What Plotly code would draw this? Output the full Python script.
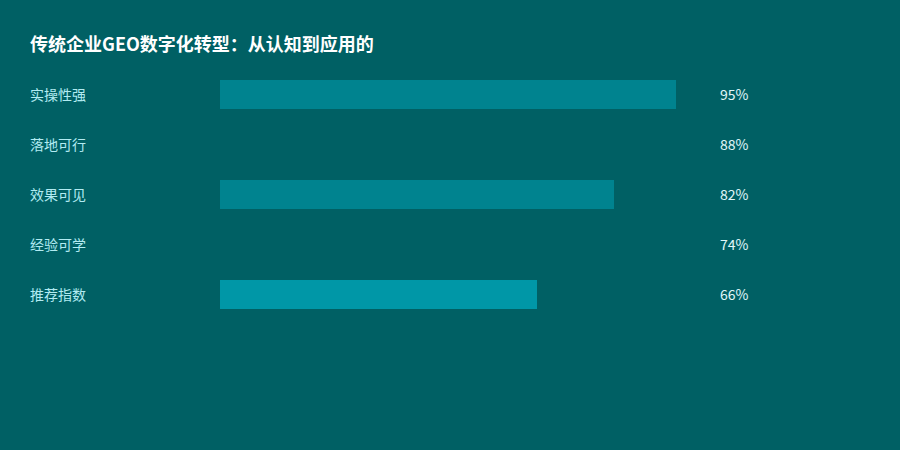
import plotly.graph_objects as go

# data
categories = ["实操性强", "落地可行", "效果可见", "经验可学", "推荐指数"]
values = [95, 88, 82, 74, 66]
value_labels = ["95%", "88%", "82%", "74%", "66%"]
bar_colors = ["#00838F", "#006064", "#00838F", "#006064", "#0097A7"]

bg = "#006064"
font_family = "Noto Sans CJK SC, Microsoft YaHei, sans-serif"

fig = go.Figure(go.Bar(
    x=values,
    y=categories,
    orientation="h",
    marker=dict(color=bar_colors, line=dict(width=0)),
    width=0.58,
    hoverinfo="skip",
))

# category labels on the left, values on the right
for cat, lab in zip(categories, value_labels):
    fig.add_annotation(x=(30 - 220) / 480, xref="paper", y=cat, yref="y",
                       text=cat, showarrow=False, xanchor="left", xshift=-2,
                       font=dict(size=14, color="#B2EBF2", family=font_family))
    fig.add_annotation(x=(720 - 220) / 480, xref="paper", y=cat, yref="y",
                       text=lab, showarrow=False, xanchor="left", xshift=-2,
                       font=dict(size=14, color="#E0F7FA", family=font_family))

fig.update_layout(
    width=900, height=450,
    paper_bgcolor=bg, plot_bgcolor=bg,
    margin=dict(l=220, r=200, t=69, b=131),
    title=dict(text="<b>传统企业GEO数字化转型：从认知到应用的</b>",
               x=30 / 900, xref="container", xanchor="left",
               y=1 - 45 / 450, yref="container", yanchor="middle",
               font=dict(size=18, color="#FFFFFF", family=font_family)),
    xaxis=dict(range=[0, 100], visible=False, fixedrange=True),
    yaxis=dict(autorange="reversed", visible=False, fixedrange=True),
    showlegend=False,
    bargap=0,
)

fig.write_html("out.html", config={"displayModeBar": False},
               post_script="document.body.style.margin='0';document.body.style.overflow='hidden';")
